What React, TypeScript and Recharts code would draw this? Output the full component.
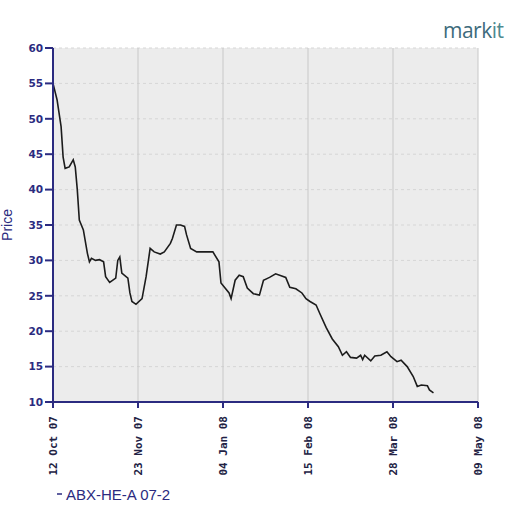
import React from 'react';
import { LineChart, Line, XAxis, YAxis, CartesianGrid, Legend, Label } from 'recharts';

// days since 12 Oct 07
const days = [
    0, 2, 4, 5, 6, 8, 10, 11, 12, 13, 15, 17, 18, 19, 21, 23, 25, 26, 28, 31,
    32, 33, 34, 37, 38, 39, 41, 44, 46, 48, 50, 53, 55, 58, 59, 61, 63, 65, 66, 68,
    71, 75, 79, 82, 83, 87, 88, 90, 92, 94, 96, 99, 102, 104, 107, 110, 115, 117, 120, 123,
    125, 127, 130, 132, 135, 138, 141, 143, 145, 147, 150, 152, 153, 154, 157, 159, 162, 165, 167, 170,
    172, 175, 178, 180, 182, 185, 186, 188,
];
const prices = [
    55.0, 52.7, 48.9, 44.6, 43.0, 43.2, 44.2, 43.2, 40.0, 35.7, 34.3, 31.0, 29.8, 30.3, 30.0, 30.1, 29.8, 27.7, 26.9, 27.5,
    30.0, 30.5, 28.2, 27.5, 25.4, 24.2, 23.8, 24.6, 27.7, 31.7, 31.2, 30.9, 31.2, 32.4, 33.1, 35.0, 35.0, 34.8, 33.6, 31.7,
    31.2, 31.2, 31.2, 29.8, 26.8, 25.4, 24.6, 27.2, 27.9, 27.7, 26.1, 25.3, 25.1, 27.2, 27.6, 28.1, 27.6, 26.2, 26.0, 25.4,
    24.6, 24.2, 23.7, 22.4, 20.5, 18.9, 17.8, 16.6, 17.1, 16.3, 16.2, 16.6, 16.0, 16.6, 15.8, 16.5, 16.6, 17.1, 16.4, 15.7,
    15.9, 15.0, 13.6, 12.2, 12.4, 12.3, 11.7, 11.3,
];

const xTicks = [0, 42, 84, 126, 168, 210];
const xTickLabels = ['12 Oct 07', '23 Nov 07', '04 Jan 08', '15 Feb 08', '28 Mar 08', '09 May 08'];
const yTicks = [10, 15, 20, 25, 30, 35, 40, 45, 50, 55, 60];
const seriesName = 'ABX-HE-A 07-2';

const data = days.map((d, i) => ({ day: d, price: prices[i] }));

const NAVY = '#2b2b80';

const DateTick = (props: any) => {
    const { x, y, payload } = props;
    const idx = xTicks.indexOf(payload.value);
    const ty = y + 6;
    return (
        <text
            x={x}
            y={ty}
            dy="0.35em"
            transform={`rotate(-90 ${x} ${ty})`}
            textAnchor="end"
            fontFamily="DejaVu Sans Mono"
            fontWeight="bold"
            fontSize={11}
            fill="#222244"
        >
            {xTickLabels[idx]}
        </text>
    );
};

const PriceLabel = (props: any) => {
    const vb = props.viewBox;
    const cy = vb.y + vb.height / 2;
    return (
        <text x={12} y={cy} transform={`rotate(-90 12 ${cy})`} textAnchor="middle" fontFamily="Liberation Sans" fontSize={14} fill={NAVY}>
            Price
        </text>
    );
};

const LegendContent = () => (
    <div style={{ height: 20, display: 'flex', alignItems: 'center', fontFamily: 'Liberation Sans', fontSize: 15, color: NAVY }}>
        <svg width={10} height={10}>
            <line x1={2} y1={5} x2={7} y2={5} stroke={NAVY} strokeWidth={1.5} />
        </svg>
        <span style={{ marginLeft: 1 }}>{seriesName}</span>
    </div>
);

export default function App() {
    return (
        <div style={{ position: 'absolute', left: 0, top: 0, width: 520, height: 520, background: '#fff' }}>
            <div
                style={{
                    position: 'absolute',
                    left: 443,
                    top: 16,
                    fontFamily: 'Open Sans',
                    fontSize: 21,
                    color: '#3d6b7c',
                    letterSpacing: -0.5,
                }}
            >
                mark<span style={{ color: '#4f8a8f' }}>it</span>
            </div>
            <LineChart width={520} height={520} data={data} margin={{ top: 48, right: 42, bottom: 18, left: 0 }}>
                <CartesianGrid horizontal vertical={false} fill="#ececec" stroke="#d6d6d6" strokeDasharray="3 3" />
                <CartesianGrid horizontal={false} vertical stroke="#c8c8c8" />
                <XAxis
                    dataKey="day"
                    type="number"
                    domain={[0, 210]}
                    ticks={xTicks}
                    height={80}
                    interval={0}
                    tick={<DateTick />}
                    axisLine={{ stroke: NAVY, strokeWidth: 2 }}
                    tickLine={{ stroke: NAVY, strokeWidth: 2 }}
                    tickSize={6}
                />
                <YAxis
                    type="number"
                    domain={[10, 60]}
                    ticks={yTicks}
                    width={53}
                    interval={0}
                    axisLine={{ stroke: NAVY, strokeWidth: 2 }}
                    tickLine={{ stroke: NAVY, strokeWidth: 2 }}
                    tickSize={8}
                    tickMargin={2}
                    tick={{ fontFamily: 'DejaVu Sans', fontWeight: 'bold', fontSize: 10.5, fill: NAVY }}
                >
                    <Label content={<PriceLabel />} />
                </YAxis>
                <Legend
                    verticalAlign="bottom"
                    align="left"
                    content={<LegendContent />}
                    wrapperStyle={{ left: 55, top: 484, bottom: 'auto', width: 220 }}
                />
                <Line
                    type="linear"
                    dataKey="price"
                    name={seriesName}
                    stroke="#1c1c1c"
                    strokeWidth={1.6}
                    dot={false}
                    isAnimationActive={false}
                />
            </LineChart>
        </div>
    );
}
